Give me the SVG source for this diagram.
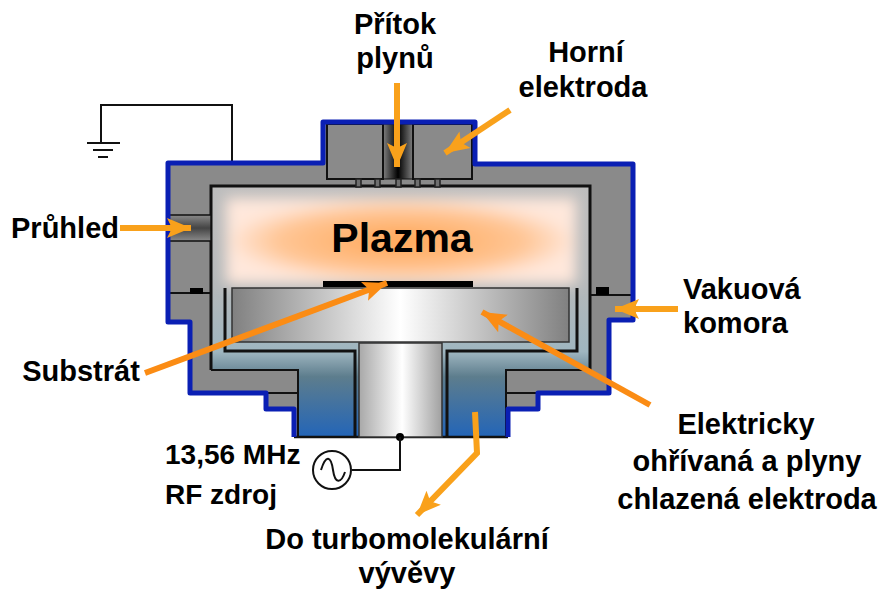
<svg xmlns="http://www.w3.org/2000/svg" width="880" height="591" viewBox="0 0 880 591">
<style>
.t{font-family:"Liberation Sans",Arial,sans-serif;font-weight:700;font-size:29px;fill:#000;text-anchor:middle}
.s{text-anchor:start}
.k{fill:none;stroke:#111;stroke-width:2}
.k3{fill:none;stroke:#111;stroke-width:3}
.a{fill:none;stroke:#f9a11b;stroke-width:6;marker-end:url(#h)}
.b{fill:none;stroke:#fb8c14;stroke-width:6;marker-end:url(#h2)}
.n{fill:#6e6e6e;stroke:#222;stroke-width:1.5}
</style>
<defs>
<marker id="h" markerUnits="userSpaceOnUse" markerWidth="26" markerHeight="24" refX="24" refY="12" orient="auto"><path d="M24 12L0 2L5 12L0 22Z" fill="#f9a11b"/></marker>
<marker id="h2" markerUnits="userSpaceOnUse" markerWidth="26" markerHeight="24" refX="24" refY="12" orient="auto"><path d="M24 12L0 2L5 12L0 22Z" fill="#fb8c14"/></marker>
<linearGradient id="ch" gradientUnits="userSpaceOnUse" x1="400" y1="186" x2="400" y2="437"><stop offset="0" stop-color="#bdbdbd"/><stop offset=".4" stop-color="#b4b8ba"/><stop offset=".66" stop-color="#9fb6c0"/><stop offset=".76" stop-color="#5d7d8d"/><stop offset="1" stop-color="#2365b8"/></linearGradient>
<linearGradient id="el" x1="0" x2="1" y1="0" y2="0"><stop offset="0" stop-color="#808080"/><stop offset=".5" stop-color="#fff"/><stop offset="1" stop-color="#808080"/></linearGradient>
<linearGradient id="st" x1="0" x2="1" y1="0" y2="0"><stop offset="0" stop-color="#a8a8a8"/><stop offset=".52" stop-color="#fff"/><stop offset="1" stop-color="#a0a0a0"/></linearGradient>
<linearGradient id="noz" x1="0" x2="1" y1="0" y2="0"><stop offset="0" stop-color="#808080"/><stop offset=".5" stop-color="#000"/><stop offset="1" stop-color="#808080"/></linearGradient>
<linearGradient id="vp" x1="0" x2="0" y1="0" y2="1"><stop offset="0" stop-color="#8a8a8a"/><stop offset=".5" stop-color="#444"/><stop offset="1" stop-color="#8a8a8a"/></linearGradient>
<radialGradient id="pl" cx=".5" cy=".5" r=".5"><stop offset="0" stop-color="#ffa655"/><stop offset=".7" stop-color="#ffc594"/><stop offset="1" stop-color="#ffe8dc"/></radialGradient>
<filter id="bl" x="-10%" y="-30%" width="120%" height="160%"><feGaussianBlur stdDeviation="7"/></filter>
</defs>
<g id="body">
<path d="M168 163H323V122H475V164H633V320H609V393H538V409H508V437H294V409H266V393H190V322H168Z" fill="#8a8a8a"/>
<path d="M232 162V105H101V143" class="k"/>
<path d="M87 143H120M93 150H113M98 157H108" class="k"/>
</g>
<g id="chamber">
<path d="M211 186H590V370H506V437H298V370H211Z" fill="url(#ch)"/>
<rect x="226" y="198" width="350" height="86" fill="url(#pl)" filter="url(#bl)"/>
<path d="M211 370V186H590V370" class="k3"/>
<path d="M211 370H298V437M590 370H506V437" class="k"/>
<path d="M294 437H508" stroke="#111" stroke-width="2.5" fill="none"/>
</g>
<g id="top-electrode">
<rect x="383" y="124" width="30" height="55" fill="url(#noz)" stroke="#111"/>
<rect x="327" y="124" width="56" height="55" fill="#8a8a8a" class="k"/>
<rect x="413" y="124" width="59" height="55" fill="#8a8a8a" class="k"/>
<rect x="356" y="179" width="5" height="8" class="n"/><rect x="375" y="179" width="5" height="8" class="n"/><rect x="396" y="179" width="5" height="8" class="n"/><rect x="415" y="179" width="5" height="8" class="n"/><rect x="435" y="179" width="5" height="8" class="n"/>
</g>
<g id="viewport"><rect x="169" y="215" width="42" height="26" fill="url(#vp)" stroke="#111" stroke-width="1.5"/></g>
<g id="flanges">
<path d="M170 293H212M590 295H631M266 393H298M506 393H538" class="k"/>
<rect x="190" y="288" width="13" height="6" fill="#000"/>
<rect x="596" y="287" width="13" height="8" fill="#000"/>
</g>
<g id="lower-electrode">
<rect x="232" y="288" width="337" height="54" fill="url(#el)" stroke="#333" stroke-width="1.5"/>
<rect x="359" y="343" width="83" height="94" fill="url(#st)" stroke="#333" stroke-width="1.5"/>
<path d="M225 288V351H355V437M577 288V351H447V437" class="k3"/>
<rect x="323" y="281" width="150" height="6" fill="#000"/>
</g>
<g id="outline"><path d="M294 437V409H266V393H190V322H168V163H323V122H475V164H633V320H609V393H538V409H508V437" fill="none" stroke="#0a1fb4" stroke-width="5" stroke-linejoin="round"/></g>
<g id="source">
<circle cx="400" cy="437" r="4" fill="#000"/>
<path d="M400 437V470H352" class="k"/>
<circle cx="332" cy="470" r="19" fill="#fff" stroke="#111" stroke-width="2"/>
<path d="M321 470C326 454 331 456 333 470C335 484 341 484 345 472" class="k"/>
</g>
<g id="connectors">
<path d="M397 83V167" class="a"/>
<path d="M510 110L445 153" class="a"/>
<path d="M120 228H191" class="a"/>
<path d="M678 309H615" class="a"/>
<path d="M145 373L387 283" class="b"/>
<path d="M650 405L482 312" class="b"/>
<path d="M475 412L477 453L417 515" class="a"/>
</g>
<g id="labels">
<text class="t" x="395" y="34">Přítok</text>
<text class="t" x="395" y="68">plynů</text>
<text class="t" x="586" y="62">Horní</text>
<text class="t" x="583" y="97">elektroda</text>
<text class="t" x="65" y="238">Průhled</text>
<text class="t" x="402" y="252" style="font-size:41px">Plazma</text>
<text class="t s" x="683" y="299">Vakuová</text>
<text class="t s" x="683" y="333">komora</text>
<text class="t" x="81" y="381">Substrát</text>
<text class="t" x="746" y="434">Elektricky</text>
<text class="t" x="747" y="471">ohřívaná a plyny</text>
<text class="t" x="747" y="509">chlazená elektroda</text>
<text class="t s" x="165" y="464" style="font-size:28px">13,56 MHz</text>
<text class="t s" x="165" y="504" style="font-size:28px">RF zdroj</text>
<text class="t" x="407" y="549">Do turbomolekulární</text>
<text class="t" x="407" y="583">vývěvy</text>
</g>
</svg>
